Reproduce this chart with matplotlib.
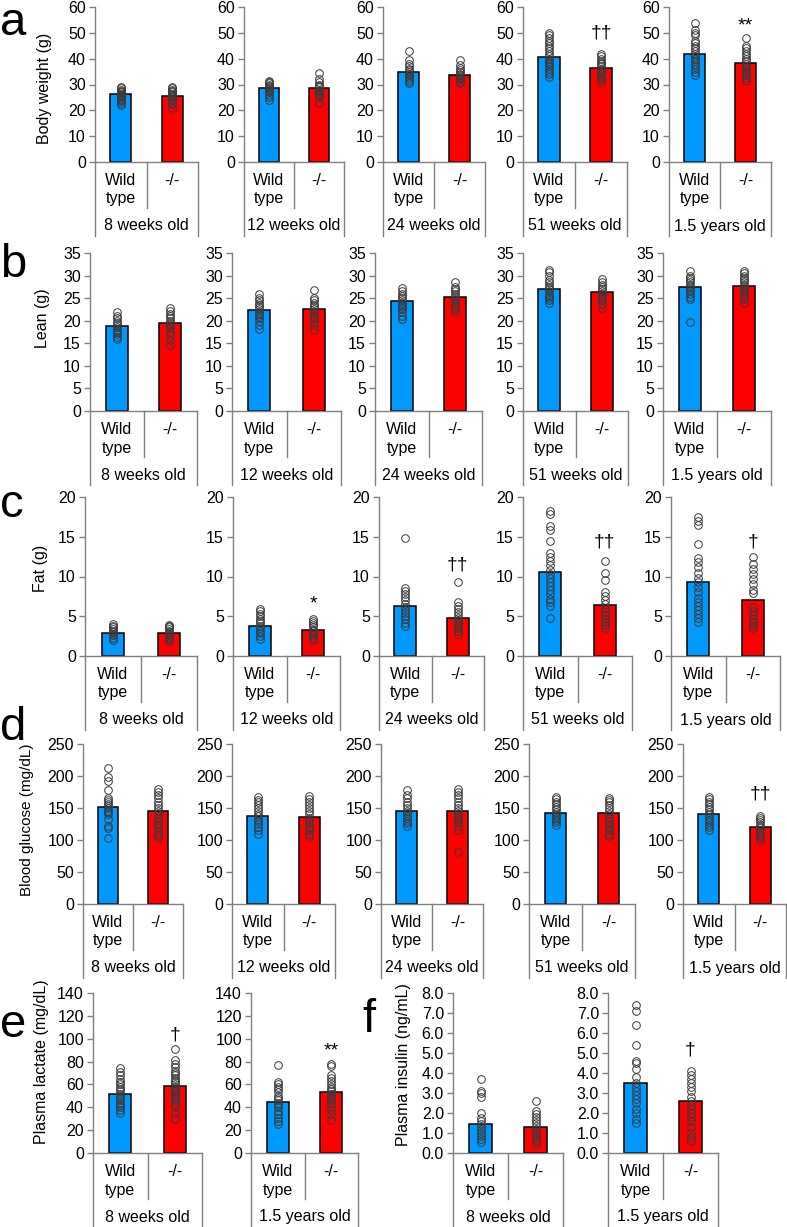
import matplotlib
matplotlib.use("Agg")
import matplotlib.pyplot as plt
from matplotlib.lines import Line2D

plt.rcParams['font.family'] = ['Liberation Sans', 'DejaVu Sans']

# ---------------- data ----------------
groups = ["Wild\ntype", "-/-"]
ages5 = ["8 weeks old", "12 weeks old", "24 weeks old", "51 weeks old", "1.5 years old"]
ages2 = ["8 weeks old", "1.5 years old"]

# a: body weight (g)
bw_mean_wt = [26.2, 28.7, 34.8, 40.7, 42.0]
bw_mean_ko = [25.5, 28.7, 33.8, 36.5, 38.4]
bw_pts_wt = [
    [22, 23, 23.5, 24, 24.5, 25, 25.5, 26, 26, 26.5, 27, 27, 27.5, 28, 28.5, 29],
    [24, 25, 26, 27, 27.5, 28, 28.5, 29, 29.5, 30, 30.5, 31, 31.5],
    [30.5, 31.5, 32, 33, 33.5, 34, 35, 35.5, 36, 37, 38, 39.5, 43],
    [33, 34, 35, 36, 37, 38, 38.5, 39, 40, 41, 42, 43, 44, 45, 46, 47, 48, 49, 50],
    [33.5, 35, 36, 37, 38, 39, 40, 41, 42, 43, 44, 45, 46, 47, 49, 50, 51, 54],
]
bw_pts_ko = [
    [21, 22.5, 23, 24, 24.5, 25, 25.5, 26, 26.5, 27, 27.5, 28, 28.5, 29],
    [23, 25, 26, 26.5, 27, 27.5, 28, 29, 29.5, 30, 31, 32, 34.5],
    [30.5, 31, 32, 32.5, 33, 33.5, 34, 35, 35.5, 36.5, 37.5, 39.5],
    [31, 32, 33, 34, 35, 35.5, 36, 37, 38, 38.5, 39, 40, 41, 42],
    [31.5, 32.5, 33.5, 34.5, 35, 36, 37, 38, 39, 40, 41, 42, 43, 44, 45, 48],
]
bw_sig = ["", "", "", "\u2020\u2020", "**"]
bw_sig_y = [0, 0, 0, 50, 52.5]

# b: lean (g)
lean_mean_wt = [18.8, 22.3, 24.4, 27.1, 27.4]
lean_mean_ko = [19.6, 22.7, 25.3, 26.3, 27.6]
lean_pts_wt = [
    [16, 16.5, 17, 17.5, 18, 18.5, 19, 19.5, 20, 20.5, 21, 22],
    [18.2, 19, 20, 20.5, 21, 21.5, 22, 22.5, 23, 23.5, 24, 24.5, 25, 26],
    [20.3, 21, 22, 22.5, 23, 23.5, 24, 24.5, 25, 25.5, 26, 26.5, 27.2],
    [24, 24.5, 25, 25.5, 26, 26.5, 27, 27.5, 28, 28.5, 29, 30, 30.7, 31.3],
    [19.7, 24.7, 25.3, 26, 26.5, 27, 27.5, 28, 28.5, 29, 29.5, 30, 31],
]
lean_pts_ko = [
    [14.7, 15.8, 16.8, 17.5, 18.5, 19, 19.5, 20, 20.5, 21, 21.5, 22.2, 22.8],
    [18, 19, 20, 20.5, 21, 22, 22.5, 23, 23.5, 24, 24.5, 25, 26.8],
    [22, 22.7, 23.3, 24, 24.5, 25, 25.5, 26, 26.5, 27, 27.5, 28.5],
    [22.8, 23.7, 24.5, 25, 25.5, 26, 26.5, 27, 27.5, 28, 28.5, 29.2],
    [24, 24.7, 25.3, 26, 26.5, 27, 27.5, 28, 28.5, 29, 29.5, 30, 30.5, 31],
]
lean_sig = ["", "", "", "", ""]
lean_sig_y = [0, 0, 0, 0, 0]

# c: fat (g)
fat_mean_wt = [2.95, 3.8, 6.3, 10.6, 9.3]
fat_mean_ko = [2.9, 3.3, 4.75, 6.45, 7.1]
fat_pts_wt = [
    [2.0, 2.3, 2.6, 2.8, 3.0, 3.2, 3.4, 3.6, 3.8, 4.0],
    [2.1, 2.5, 2.9, 3.2, 3.5, 3.8, 4.1, 4.4, 4.7, 5.0, 5.3, 5.7, 5.9],
    [3.8, 4.2, 4.6, 5.0, 5.4, 5.8, 6.2, 6.6, 7.0, 7.4, 7.8, 8.2, 8.5, 14.8],
    [4.8, 6.3, 6.8, 7.2, 7.8, 8.3, 8.8, 9.3, 9.8, 10.3, 10.8, 11.4, 12.0, 12.5, 13.0,
     14.5, 15.8, 16.4, 17.8, 18.2],
    [4.3, 4.8, 5.3, 5.8, 6.3, 6.8, 7.3, 8.0, 8.7, 9.3, 9.8, 10.5, 11.2, 11.8, 12.3,
     14.1, 16.5, 17.0, 17.5],
]
fat_pts_ko = [
    [1.9, 2.1, 2.4, 2.6, 2.8, 3.0, 3.2, 3.4, 3.6, 3.8, 3.9],
    [2.0, 2.3, 2.6, 2.9, 3.1, 3.3, 3.6, 3.9, 4.1, 4.4, 4.7],
    [2.8, 3.1, 3.5, 3.9, 4.2, 4.5, 4.8, 5.2, 5.5, 5.9, 6.3, 6.8, 9.3],
    [3.5, 3.9, 4.3, 4.7, 5.1, 5.5, 6.0, 6.5, 7.0, 7.5, 8.0, 9.5, 10.5, 11.9],
    [3.5, 3.9, 4.3, 4.6, 5.2, 5.7, 6.2, 7.9, 8.3, 9.0, 9.7, 10.3, 11.0, 11.6, 12.5],
]
fat_sig = ["", "*", "\u2020\u2020", "\u2020\u2020", "\u2020"]
fat_sig_y = [0, 6.6, 11.4, 14.3, 14.3]

# d: blood glucose (mg/dL)
glc_mean_wt = [151, 137, 146, 142, 140]
glc_mean_ko = [146, 136, 145, 142, 121]
glc_pts_wt = [
    [103, 118, 122, 133, 140, 143, 146, 150, 153, 157, 160, 163, 166, 178, 192, 198, 212],
    [110, 115, 120, 125, 130, 133, 137, 140, 145, 150, 155, 160, 163, 167],
    [122, 126, 130, 134, 138, 142, 146, 150, 155, 160, 165, 170, 178],
    [124, 128, 132, 135, 138, 141, 144, 148, 152, 156, 160, 164, 167],
    [116, 120, 124, 128, 132, 136, 140, 144, 148, 152, 156, 160, 164, 167],
]
glc_pts_ko = [
    [104, 108, 112, 120, 125, 130, 135, 140, 145, 150, 155, 160, 165, 170, 175, 180],
    [106, 110, 115, 120, 125, 130, 135, 140, 145, 150, 155, 160, 164, 168],
    [81, 115, 122, 128, 132, 136, 140, 145, 150, 155, 160, 165, 170, 175, 180],
    [106, 110, 115, 120, 125, 130, 135, 140, 145, 150, 155, 160, 163, 166],
    [100, 104, 108, 112, 116, 120, 124, 128, 132, 135, 138],
]
glc_sig = ["", "", "", "", "\u2020\u2020"]
glc_sig_y = [0, 0, 0, 0, 172]

# e: plasma lactate (mg/dL)
lac_mean_wt = [51.5, 45]
lac_mean_ko = [58.5, 53]
lac_pts_wt = [
    [35, 38, 40, 42, 44, 46, 48, 50, 52, 54, 56, 58, 60, 62, 65, 68, 71, 74],
    [25, 28, 31, 34, 37, 40, 42, 44, 46, 48, 50, 53, 56, 58, 60, 62, 77],
]
lac_pts_ko = [
    [30, 35, 40, 43, 46, 48, 50, 52, 54, 56, 58, 60, 62, 64, 66, 68, 70, 72, 75, 78, 81, 91],
    [29, 34, 38, 41, 44, 46, 48, 50, 52, 54, 56, 58, 60, 63, 66, 68, 76, 78],
]
lac_sig = ["\u2020", "**"]
lac_sig_y = [103, 89]

# f: plasma insulin (ng/mL)
ins_mean_wt = [1.45, 3.5]
ins_mean_ko = [1.3, 2.6]
ins_pts_wt = [
    [0.55, 0.7, 0.85, 1.0, 1.15, 1.3, 1.45, 1.6, 1.75, 2.0, 2.8, 3.0, 3.1, 3.7],
    [1.5, 1.7, 2.0, 2.2, 2.5, 2.7, 2.9, 3.1, 3.3, 3.5, 3.8, 4.2, 4.5, 4.6, 5.4, 6.4, 7.1, 7.4],
]
ins_pts_ko = [
    [0.45, 0.6, 0.75, 0.9, 1.05, 1.2, 1.35, 1.5, 1.65, 1.8, 1.95, 2.1, 2.6],
    [0.6, 0.8, 1.0, 1.3, 1.6, 1.8, 2.0, 2.2, 2.4, 2.6, 2.8, 3.1, 3.3, 3.5, 3.7, 3.9, 4.1],
]
ins_sig = ["", "\u2020"]
ins_sig_y = [0, 5.15]

# ---------------- style ----------------
W, H = 787, 1227
BLUE = "#0099FF"
RED = "#FF0000"
GRAY = "#808080"
FS = 11.5

fig = plt.figure(figsize=(W / 100, H / 100), dpi=100)


def fline(xs, ys):
    fig.add_artist(Line2D([x / W for x in xs], [1 - y / H for y in ys],
                          transform=fig.transFigure, color=GRAY, lw=1.0))


def panel(x0, x1, ytop, ybot, ymax, step, fmt, mwt, mko, pwt, pko, sig, sigy, age):
    ax = fig.add_axes([x0 / W, 1 - ybot / H, (x1 - x0) / W, (ybot - ytop) / H])
    ax.set_xlim(0, 2)
    ax.set_ylim(0, ymax)
    for s in ("top", "right"):
        ax.spines[s].set_visible(False)
    for s in ("left", "bottom"):
        ax.spines[s].set_color(GRAY)
        ax.spines[s].set_linewidth(1.0)
    ax.set_xticks([])
    n = int(round(ymax / step))
    ticks = [i * step for i in range(n + 1)]
    ax.set_yticks(ticks)
    ax.set_yticklabels([fmt.format(t) for t in ticks], fontsize=FS)
    ax.tick_params(axis="y", direction="out", length=4.5, width=1.0, color=GRAY, pad=2)
    ax.bar([0.5, 1.5], [mwt, mko], width=0.41, color=[BLUE, RED],
           edgecolor="black", linewidth=1.1, zorder=2)
    ax.plot([0.5] * len(pwt), pwt, "o", mfc="none", mec="#3a3a3a", ms=5.5, mew=0.7,
            zorder=3, clip_on=False)
    ax.plot([1.5] * len(pko), pko, "o", mfc="none", mec="#3a3a3a", ms=5.5, mew=0.7,
            zorder=3, clip_on=False)
    if sig:
        ax.text(1.5, sigy, sig, ha="center", va="center", fontsize=14, zorder=4)
    # category table below
    xm = (x0 + x1) / 2
    fline([x0, x0], [ybot, ybot + 74])
    fline([x1, x1], [ybot, ybot + 74])
    fline([xm, xm], [ybot, ybot + 45.5])
    fig.text((x0 + xm) / 2 / W, 1 - (ybot + 18.5) / H, "Wild", ha="center", va="center", fontsize=FS)
    fig.text((x0 + xm) / 2 / W, 1 - (ybot + 37) / H, "type", ha="center", va="center", fontsize=FS)
    fig.text((xm + x1) / 2 / W, 1 - (ybot + 18.5) / H, "-/-", ha="center", va="center", fontsize=FS)
    fig.text(xm / W, 1 - (ybot + 64) / H, age, ha="center", va="center", fontsize=FS)
    return ax


rows = [
    dict(xs=[(95, 198), (244, 344), (383, 485), (523, 627), (669, 771)], top=7, bot=162,
         ymax=60, step=10, fmt="{:.0f}", mwt=bw_mean_wt, mko=bw_mean_ko, pwt=bw_pts_wt,
         pko=bw_pts_ko, sig=bw_sig, sigy=bw_sig_y, ages=ages5),
    dict(xs=[(90, 197), (232, 341), (375, 482), (523, 628), (663, 771)], top=253, bot=411,
         ymax=35, step=5, fmt="{:.0f}", mwt=lean_mean_wt, mko=lean_mean_ko, pwt=lean_pts_wt,
         pko=lean_pts_ko, sig=lean_sig, sigy=lean_sig_y, ages=ages5),
    dict(xs=[(85, 197), (233, 340), (379, 484), (523, 632), (671, 780)], top=497, bot=656,
         ymax=20, step=5, fmt="{:.0f}", mwt=fat_mean_wt, mko=fat_mean_ko, pwt=fat_pts_wt,
         pko=fat_pts_ko, sig=fat_sig, sigy=fat_sig_y, ages=ages5),
    dict(xs=[(83, 183), (232, 335), (381, 483), (529, 635), (683, 786)], top=744, bot=904,
         ymax=250, step=50, fmt="{:.0f}", mwt=glc_mean_wt, mko=glc_mean_ko, pwt=glc_pts_wt,
         pko=glc_pts_ko, sig=glc_sig, sigy=glc_sig_y, ages=ages5),
    dict(xs=[(93, 202), (251, 358)], top=993, bot=1153,
         ymax=140, step=20, fmt="{:.0f}", mwt=lac_mean_wt, mko=lac_mean_ko, pwt=lac_pts_wt,
         pko=lac_pts_ko, sig=lac_sig, sigy=lac_sig_y, ages=ages2),
    dict(xs=[(453, 563), (608, 718)], top=993, bot=1153,
         ymax=8, step=1, fmt="{:.1f}", mwt=ins_mean_wt, mko=ins_mean_ko, pwt=ins_pts_wt,
         pko=ins_pts_ko, sig=ins_sig, sigy=ins_sig_y, ages=ages2),
]

for r in rows:
    for i, (x0, x1) in enumerate(r["xs"]):
        panel(x0, x1, r["top"], r["bot"], r["ymax"], r["step"], r["fmt"],
              r["mwt"][i], r["mko"][i], r["pwt"][i], r["pko"][i],
              r["sig"][i], r["sigy"][i], r["ages"][i])

# y labels
ylabels = [("Body weight (g)", 44, 88, FS), ("Lean (g)", 43, 318, FS), ("Fat (g)", 40, 568, FS),
           ("Blood glucose (mg/dL)", 27, 820, 11), ("Plasma lactate (mg/dL)", 42, 1062, FS),
           ("Plasma insulin (ng/mL)", 404, 1065, FS)]
for txt, x, y, fs in ylabels:
    fig.text(x / W, 1 - y / H, txt, rotation=90, ha="center", va="center", fontsize=fs)

# panel letters
letters = [("a", 0, 35), ("b", 0, 277), ("c", 0, 517), ("d", 0, 740), ("e", 0, 1037), ("f", 362, 1032)]
for t, x, y in letters:
    fig.text(x / W, 1 - y / H, t, ha="left", va="baseline", fontsize=34)

fig.savefig("out.png", dpi=100)
